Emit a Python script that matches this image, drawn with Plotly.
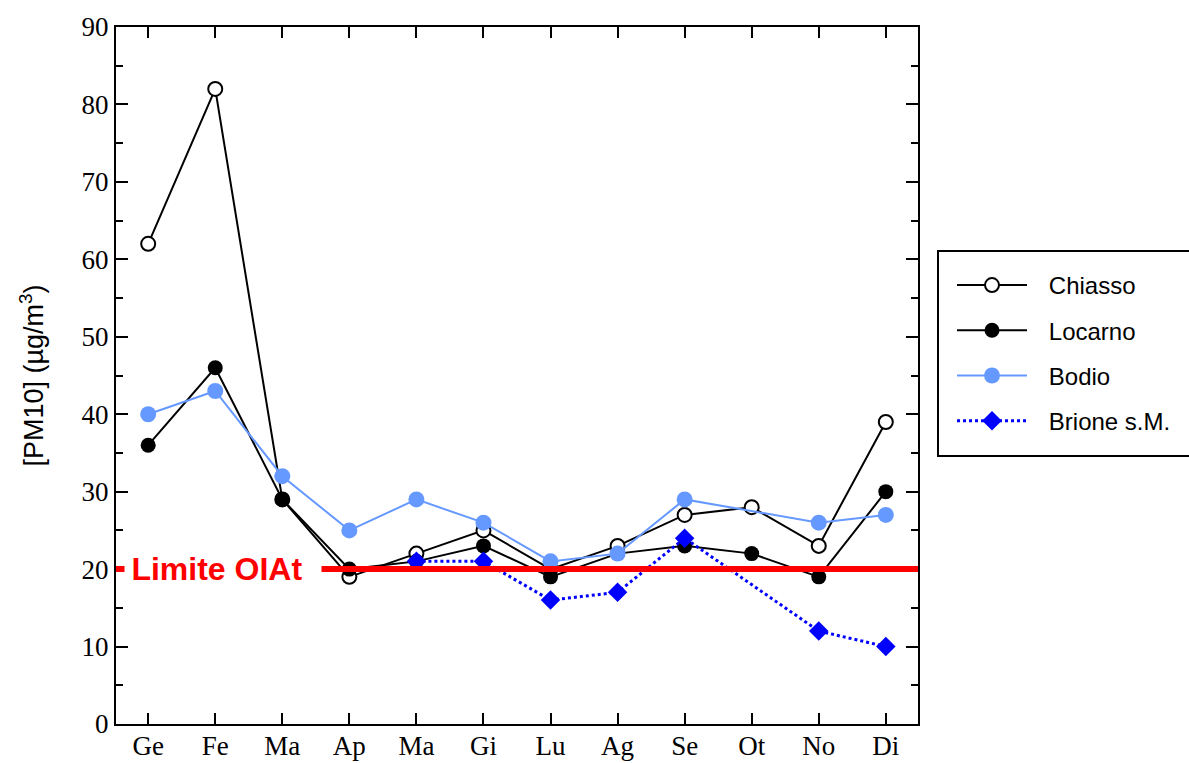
import plotly.graph_objects as go

months = ["Ge", "Fe", "Ma", "Ap", "Ma", "Gi", "Lu", "Ag", "Se", "Ot", "No", "Di"]
x_idx = list(range(len(months)))

chiasso = [62, 82, 29, 19, 22, 25, 20, 23, 27, 28, 23, 39]
locarno = [36, 46, 29, 20, 21, 23, 19, 22, 23, 22, 19, 30]
bodio = [40, 43, 32, 25, 29, 26, 21, 22, 29, None, 26, 27]
brione = [None, None, None, None, 21, 21, 16, 17, 24, None, 12, 10]

series_names = ["Chiasso", "Locarno", "Bodio", "Brione s.M."]

limit_value = 20
limit_label = "Limite OIAt"

# plot geometry (pixels)
W, H = 1189, 763
L, R, T, B = 116, 918, 27, 724
pw, ph = R - L, B - T


def px(xp):
    return (xp - L) / pw


def py(yp):
    return (B - yp) / ph


pad = "\u2002\u2009"

fig = go.Figure()

fig.add_trace(go.Scatter(
    x=x_idx, y=chiasso, name=pad + series_names[0], mode="lines+markers", legendgroup="a",
    line=dict(color="black", width=2),
    marker=dict(symbol="circle", size=14, color="white", line=dict(color="black", width=2)),
))
fig.add_trace(go.Scatter(
    x=x_idx, y=locarno, name=pad + series_names[1], mode="lines+markers", legendgroup="b",
    line=dict(color="black", width=2),
    marker=dict(symbol="circle", size=15, color="black"),
))
fig.add_trace(go.Scatter(
    x=x_idx, y=bodio, name=pad + series_names[2], mode="lines+markers", legendgroup="c", connectgaps=True,
    line=dict(color="#6699ff", width=2),
    marker=dict(symbol="circle", size=16, color="#6699ff"),
))
fig.add_trace(go.Scatter(
    x=x_idx, y=brione, name=pad + series_names[3], mode="lines+markers", legendgroup="d", connectgaps=True,
    line=dict(color="#0000ff", width=3, dash="dot"),
    marker=dict(symbol="diamond", size=15, color="#0000ff"),
))

# limit line
fig.add_shape(type="line", xref="paper", yref="y", x0=0, x1=1, y0=limit_value, y1=limit_value,
              line=dict(color="#ff0000", width=6), layer="above")
fig.add_annotation(xref="paper", yref="y", x=px(124), y=limit_value, xanchor="left", yanchor="middle",
                   text="<b>\u2009" + limit_label + "</b>", showarrow=False, bgcolor="white",
                   width=196, align="left", borderpad=0,
                   font=dict(family="Liberation Sans", size=32, color="#ff0000"))

# legend box
fig.add_shape(type="rect", xref="paper", yref="paper",
              x0=px(938), x1=px(1200), y0=py(456), y1=py(251),
              line=dict(color="black", width=2), fillcolor="rgba(0,0,0,0)")

fig.update_layout(
    width=W, height=H,
    margin=dict(l=L, r=W - R, t=T, b=H - B),
    plot_bgcolor="white", paper_bgcolor="white",
    showlegend=True,
    legend=dict(x=px(952), y=py(263), xanchor="left", yanchor="top",
                bgcolor="rgba(0,0,0,0)", borderwidth=0, itemwidth=70,
                tracegroupgap=11,
                font=dict(family="Liberation Sans", size=24, color="black")),
    xaxis=dict(range=[-0.48, 11.48], tickmode="array", tickvals=x_idx, ticktext=months,
               showline=True, linecolor="black", linewidth=2, mirror="ticks",
               ticks="inside", ticklen=11, tickwidth=2, tickcolor="black",
               showgrid=False, zeroline=False, automargin=False, ticklabelstandoff=-3,
               tickfont=dict(family="Liberation Serif", size=27, color="black")),
    yaxis=dict(range=[0, 90], dtick=10, tick0=0,
               showline=True, linecolor="black", linewidth=2, mirror="ticks",
               ticks="inside", ticklen=12, tickwidth=2, tickcolor="black",
               minor=dict(dtick=5, ticks="inside", ticklen=7, tickwidth=2, tickcolor="black"),
               showgrid=False, zeroline=False, automargin=False,
               tickfont=dict(family="Liberation Serif", size=27, color="black"),
               title=dict(text="[PM10] (µg/m<sup>3</sup>)", standoff=30,
                          font=dict(family="Liberation Sans", size=27, color="black"))),
)

fig.write_html("out.html")
